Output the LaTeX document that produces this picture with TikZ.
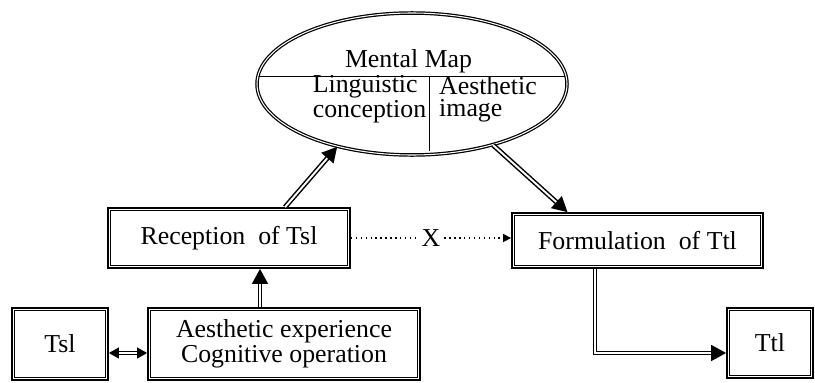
\documentclass[tikz,border=0pt]{standalone}
\usepackage{fontspec}
\setmainfont{Liberation Serif}
\usetikzlibrary{calc, arrows.meta, shapes.geometric}

\tikzset{
	framed/.style={draw=black, line width=0.7pt, double=white, double distance=0.6pt, inner sep=0pt},
	tribox/.style={draw=black, line width=1pt, inner sep=0pt,
		append after command={\pgfextra{\draw[line width=0.5pt]
			([shift={(1.8pt,-1.8pt)}]\tikzlastnode.north west) rectangle
			([shift={(-1.8pt,1.8pt)}]\tikzlastnode.south east);}}},
	maptext/.style={align=left, inner sep=1pt},
	dblarrow/.style={draw=black, line width=0.85pt, double=white, double distance=1.1pt,
		-{Triangle[length=0.3cm, width=0.32cm]}},
	dblboth/.style={draw=black, line width=0.7pt, double=white, double distance=0.8pt,
		{Triangle[length=0.2cm, width=0.22cm]}-{Triangle[length=0.2cm, width=0.22cm]}}
}

\begin{document}
\begin{tikzpicture}[font=\fontsize{14.7}{12.5}\selectfont]

	\useasboundingbox (0,0) rectangle (16.3,7.64);

	% Mental map
	\node[framed, ellipse, minimum width=6.2cm, minimum height=2.84cm] (map) at (8.24,5.96) {};
	\node[inner sep=1pt] (map_title) at (8.17,6.42) {Mental Map};
	\node[maptext] (map_left) at (7.39,5.66) {Linguistic\\conception};
	\node[maptext] (map_right) at (9.76,5.66) {Aesthetic\\image};
	\draw[thin] (5.18,6.12) -- (11.30,6.12);
	\draw[thin] (8.58,6.12) -- (8.58,4.62);

	% Boxes
	\node[tribox, minimum width=4.84cm, minimum height=1.2cm] (reception) at (4.58,2.88) {Reception\ \ of Tsl};
	\node[tribox, minimum width=5.02cm, minimum height=1.1cm] (formulation) at (12.75,2.83) {Formulation\ \ of Ttl};
	\node[tribox, minimum width=1.92cm, minimum height=1.44cm] (tsl) at (1.2,0.76) {Tsl};
	\node[tribox, minimum width=5.44cm, minimum height=1.44cm, align=center] (aesthetic) at (5.68,0.76)
		{Aesthetic experience\\Cognitive operation};
	\node[tribox, minimum width=1.72cm, minimum height=1.4cm] (ttl) at (15.4,0.78) {Ttl};

	% Source side
	\draw[dblboth] ([yshift=-0.18cm]tsl.east) -- ([yshift=-0.18cm]tsl.east -| aesthetic.west);
	\draw[dblarrow] ([xshift=-0.48cm]aesthetic.north) -- ([xshift=-0.48cm]aesthetic.north |- reception.south);
	\draw[dblarrow] ([xshift=1.12cm]reception.north) -- (map.220);

	% Target side
	\draw[dblarrow] (map.-37) -- ([xshift=-1.4cm]formulation.north);
	\draw[dblarrow] ([xshift=-0.85cm]formulation.south) |- ([yshift=-0.2cm]ttl.west);

	% Direct link
	\draw[dotted, line width=0.8pt, -{Triangle[length=0.16cm, width=0.16cm]}]
		(reception.east) -- node[fill=white, inner sep=1pt] (cross) {X} (reception.east -| formulation.west);

\end{tikzpicture}
\end{document}
